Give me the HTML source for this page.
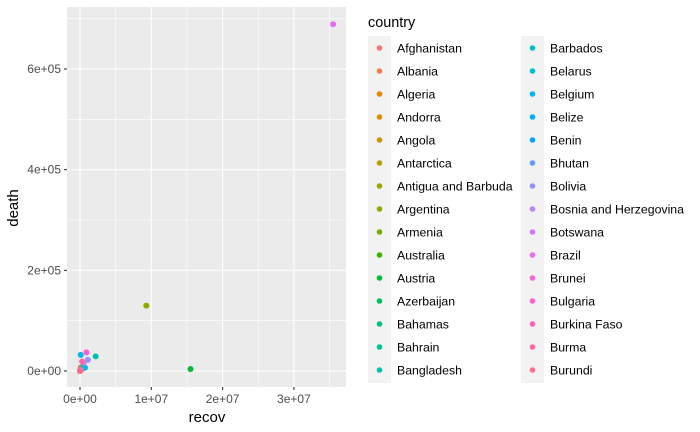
<!DOCTYPE html>
<html><head><meta charset="utf-8"><style>
body{margin:0;background:#fff;}
svg{display:block;font-family:"Liberation Sans",Arial,sans-serif;}
</style></head><body>
<svg id="chart" width="700" height="432">
<rect x="67" y="7" width="279" height="380" fill="#ebebeb"/>
<g id="grid"></g><g id="points"></g><g id="axes"></g><g id="legend"></g>
<text x="207" y="422" text-anchor="middle" font-size="15" fill="#000">recov</text>
<text transform="translate(18,208) rotate(-90)" text-anchor="middle" font-size="15" fill="#000">death</text>
<text x="368" y="27" font-size="14.4" fill="#000">country</text>
</svg>
<script>
const countries=["Afghanistan","Albania","Algeria","Andorra","Angola","Antarctica","Antigua and Barbuda","Argentina","Armenia","Australia","Austria","Azerbaijan","Bahamas","Bahrain","Bangladesh","Barbados","Belarus","Belgium","Belize","Benin","Bhutan","Bolivia","Bosnia and Herzegovina","Botswana","Brazil","Brunei","Bulgaria","Burkina Faso","Burma","Burundi"];
const recovVals=[1.0e5,2.5e5,1.5e5,1e4,8e4,0,1e4,9.3e6,3e5,2e4,1.55e7,5e5,1e4,1e5,2.2e6,5e3,7e5,1e5,1e4,1e4,2e3,1.1e6,5e5,1e5,3.55e7,1e3,9e5,1e4,3e5,1e3];
const deathVals=[7000,3000,6000,150,1900,0,100,130000,8000,900,4000,9000,600,1500,29000,300,6500,32000,600,150,20,22000,16000,2500,689000,5,37000,380,19000,38];
const xTicks=[0,1e7,2e7,3e7], xTickLabels=["0e+00","1e+07","2e+07","3e+07"];
const yTicks=[0,2e5,4e5,6e5], yTickLabels=["0e+00","2e+05","4e+05","6e+05"];
const NS="http://www.w3.org/2000/svg";
const xs=v=>80+v*71.3/1e7, ys=v=>371-v*302/6e5;
function mk(tag,attrs,parent){const e=document.createElementNS(NS,tag);for(const k in attrs)e.setAttribute(k,attrs[k]);parent.appendChild(e);return e;}
function hcl(h){const L=65,C=100,r=h*Math.PI/180;const u=C*Math.cos(r),v=C*Math.sin(r);
const Xn=95.047,Yn=100,Zn=108.883,d=Xn+15*Yn+3*Zn,un=4*Xn/d,vn=9*Yn/d;
const Y=Yn*Math.pow((L+16)/116,3),up=u/(13*L)+un,vp=v/(13*L)+vn;
const X=Y*9*up/(4*vp),Z=Y*(12-3*up-20*vp)/(4*vp);
const x=X/100,y=Y/100,z=Z/100;
let rgb=[3.2404542*x-1.5371385*y-0.4985314*z,-0.9692660*x+1.8760108*y+0.0415560*z,0.0556434*x-0.2040259*y+1.0572252*z];
rgb=rgb.map(c=>{c=c<=0.0031308?12.92*c:1.055*Math.pow(c,1/2.4)-0.055;return Math.round(Math.max(0,Math.min(1,c))*255);});
return `rgb(${rgb.join(',')})`;}
const n=countries.length;const cols=countries.map((c,i)=>hcl(15+360*i/n));
const grid=document.getElementById('grid');
[-5e6,5e6,1.5e7,2.5e7,3.5e7].forEach(v=>{const x=xs(v);if(x>67&&x<346){const l=mk('line',{x1:x,x2:x,y1:7,y2:387,stroke:'#fff','stroke-width':0.55},grid);}});
[1e5,3e5,5e5,7e5].forEach(v=>{const y=ys(v);const l=mk('line',{x1:67,x2:346,y1:y,y2:y,stroke:'#fff','stroke-width':0.55},grid);});
const axes=document.getElementById('axes');
xTicks.forEach((v,i)=>{const x=xs(v);
const g=mk('line',{x1:x,x2:x,y1:7,y2:387,stroke:'#fff','stroke-width':1.1},grid);
const t=mk('line',{x1:x,x2:x,y1:387,y2:390,stroke:'#333','stroke-width':1.1},axes);
const l=mk('text',{x:x,y:403,'text-anchor':'middle','font-size':12,fill:'#4d4d4d'},axes);l.textContent=xTickLabels[i];});
yTicks.forEach((v,i)=>{const y=ys(v);
const g=mk('line',{x1:67,x2:346,y1:y,y2:y,stroke:'#fff','stroke-width':1.1},grid);
const t=mk('line',{x1:64,x2:67,y1:y,y2:y,stroke:'#333','stroke-width':1.1},axes);
const l=mk('text',{x:61,y:y+4,'text-anchor':'end','font-size':12,fill:'#4d4d4d'},axes);l.textContent=yTickLabels[i];});
const pts=document.getElementById('points');
countries.forEach((c,i)=>{const p=mk('circle',{cx:xs(recovVals[i]),cy:ys(deathVals[i]),r:3,fill:cols[i]},pts);

});
const leg=document.getElementById('legend');
[368,521].forEach(x0=>{const r=mk('rect',{x:x0,y:36,width:23,height:347,fill:'#f2f2f2'},leg);});
countries.forEach((c,i)=>{const col=i<15?0:1,row=i%15;const x0=col?521:368,y=48+row*23;
const g=mk('g',{},leg);
mk('circle',{cx:x0+11.5,cy:y,r:2.8,fill:cols[i]},g);
const t=mk('text',{x:x0+29,y:y+4.5,'font-size':12.3,fill:'#000'},g);t.textContent=c;});
</script>
</body></html>
